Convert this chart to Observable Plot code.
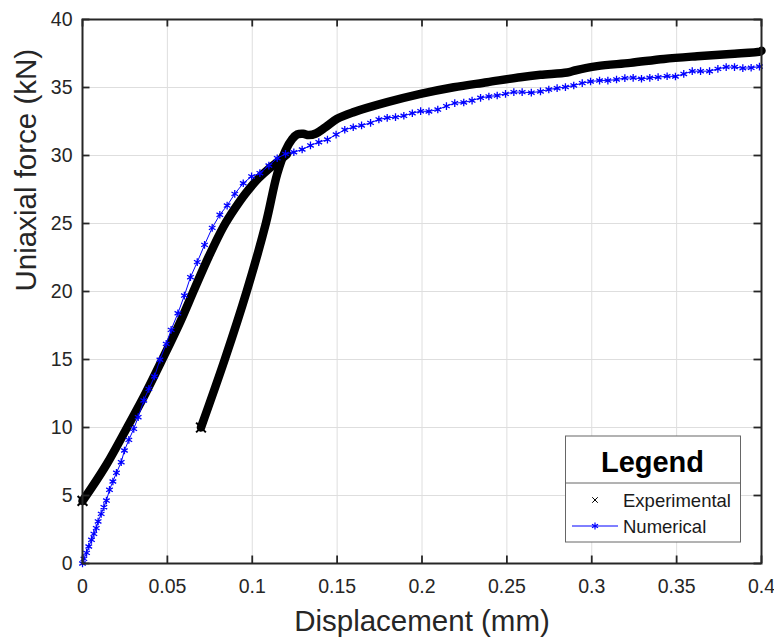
<!DOCTYPE html>
<html><head><meta charset="utf-8">
<script src="https://cdn.jsdelivr.net/npm/d3@7"></script>
<script src="https://cdn.jsdelivr.net/npm/@observablehq/plot@0.6"></script>
<style>
body{margin:0;background:#fff;}
#wrap{position:relative;width:774px;height:637px;}
</style></head><body><div id="wrap"></div>
<script>
// ---- tick values & labels ----
const xTicks = [0, 0.05, 0.1, 0.15, 0.2, 0.25, 0.3, 0.35, 0.4];
const xTickLabels = ["0", "0.05", "0.1", "0.15", "0.2", "0.25", "0.3", "0.35", "0.4"];
const yTicks = [0, 5, 10, 15, 20, 25, 30, 35, 40];
const yTickLabels = ["0", "5", "10", "15", "20", "25", "30", "35", "40"];

// ---- Experimental (two branches) ----
const expX1 = [0, 0.005, 0.0145, 0.0263, 0.0371, 0.047, 0.0577, 0.066, 0.0745, 0.0832, 0.09, 0.096, 0.1035, 0.11, 0.1166, 0.1205];
const expY1 = [4.6, 5.5, 7.35, 10.0, 12.5, 15.0, 17.8, 20.2, 22.6, 24.8, 26.15, 27.2, 28.3, 29.05, 29.7, 30.1];
const expX2 = [0.0698, 0.0838, 0.0967, 0.108, 0.1147, 0.1196, 0.1235, 0.1265, 0.13, 0.1333, 0.1375, 0.1431, 0.15, 0.1598, 0.1795, 0.1991, 0.2187, 0.2384, 0.258, 0.2698, 0.2855, 0.29, 0.3032, 0.3228, 0.3425, 0.3621, 0.3817, 0.3994, 0.4];
const expY2 = [10.0, 15.0, 20.0, 25.0, 28.65, 30.37, 31.2, 31.55, 31.6, 31.5, 31.62, 32.08, 32.7, 33.19, 33.92, 34.53, 35.02, 35.39, 35.76, 35.93, 36.1, 36.25, 36.57, 36.81, 37.1, 37.3, 37.47, 37.65, 37.7];

// ---- Numerical ----
const numX = [0, 0.0008, 0.0024, 0.0037, 0.0053, 0.0067, 0.0081, 0.0092, 0.011, 0.0126, 0.0141, 0.0159, 0.0179, 0.02, 0.0228, 0.0247, 0.0273, 0.0302, 0.0328, 0.0361, 0.0391, 0.0424, 0.0456, 0.0493, 0.0522, 0.0562, 0.06, 0.0636, 0.0676, 0.0719, 0.0764, 0.0809, 0.0852, 0.0897, 0.0947, 0.0996, 0.1045, 0.1098, 0.1147, 0.1196, 0.1245, 0.1294, 0.1343, 0.1392, 0.1443, 0.1494, 0.1545, 0.1595, 0.1644, 0.1697, 0.1746, 0.1795, 0.1844, 0.1893, 0.1943, 0.1992, 0.2041, 0.2093, 0.2144, 0.2193, 0.2246, 0.2295, 0.2345, 0.2394, 0.2443, 0.2492, 0.2541, 0.259, 0.2644, 0.2698, 0.2747, 0.2796, 0.2845, 0.2894, 0.2944, 0.2993, 0.3046, 0.3095, 0.3146, 0.3195, 0.3244, 0.3293, 0.3342, 0.3391, 0.3444, 0.3493, 0.3542, 0.3592, 0.3641, 0.3694, 0.3743, 0.3792, 0.3841, 0.389, 0.3939, 0.3988];
const numY = [0, 0.34, 0.78, 1.25, 1.74, 2.18, 2.6, 3.09, 3.65, 4.14, 4.63, 5.42, 6.03, 6.67, 7.45, 8.31, 9.09, 9.9, 10.76, 11.99, 12.84, 13.75, 14.98, 16.15, 17.18, 18.4, 19.7, 21.05, 22.16, 23.43, 24.68, 25.64, 26.32, 27.18, 27.96, 28.46, 28.7, 29.26, 29.8, 30.12, 30.24, 30.44, 30.74, 30.98, 31.17, 31.54, 31.89, 32.08, 32.21, 32.4, 32.65, 32.77, 32.82, 32.92, 33.11, 33.26, 33.24, 33.38, 33.63, 33.85, 33.9, 34.04, 34.24, 34.34, 34.41, 34.53, 34.66, 34.66, 34.62, 34.71, 34.85, 34.95, 35.03, 35.15, 35.32, 35.44, 35.51, 35.51, 35.59, 35.69, 35.71, 35.64, 35.71, 35.76, 35.83, 35.81, 36.0, 36.2, 36.2, 36.2, 36.37, 36.5, 36.5, 36.42, 36.45, 36.54];

const xLabel = "Displacement (mm)";
const yLabel = "Uniaxial force (kN)";
const legendTitle = "Legend";
const seriesNames = ["Experimental", "Numerical"];

const exp1 = expX1.map((x, i) => ({x, y: expY1[i]}));
const exp2 = expX2.map((x, i) => ({x, y: expY2[i]}));
const num = numX.map((x, i) => ({x, y: numY[i]}));
const expStarts = [exp1[0], exp2[0]];

const W = 774, H = 637, mL = 82, mR = 13, mT = 19, mB = 74;
const pw = W - mL - mR, ph = H - mT - mB;
const tickLen = 7.5;
const axisColor = "#262626";
const font = "'Liberation Sans', Arial, Helvetica, sans-serif";
const xFmt = new Map(xTicks.map((d, i) => [d, xTickLabels[i]]));
const yFmt = new Map(yTicks.map((d, i) => [d, yTickLabels[i]]));

const svg = Plot.plot({
  width: W, height: H,
  marginLeft: mL, marginRight: mR, marginTop: mT, marginBottom: mB,
  x: {domain: [0, 0.4]},
  y: {domain: [0, 40]},
  style: {fontFamily: font, background: "white", color: axisColor},
  marks: [
    Plot.gridX(xTicks, {stroke: "#dedede", strokeOpacity: 1, strokeWidth: 1}),
    Plot.gridY(yTicks, {stroke: "#dedede", strokeOpacity: 1, strokeWidth: 1}),
    Plot.line(exp1, {x: "x", y: "y", stroke: "black", strokeWidth: 8.5, curve: "catmull-rom", strokeLinejoin: "round"}),
    Plot.line(exp2, {x: "x", y: "y", stroke: "black", strokeWidth: 8.5, curve: "catmull-rom", strokeLinejoin: "round"}),
    Plot.dot(expStarts, {x: "x", y: "y", symbol: "times", r: 4.5, stroke: "black", strokeWidth: 2}),
    Plot.line(num, {x: "x", y: "y", stroke: "#0000ff", strokeWidth: 1}),
    Plot.dot(num, {x: "x", y: "y", symbol: "asterisk", r: 3.6, stroke: "#0000ff", strokeWidth: 1.3}),
    Plot.tickX(xTicks, {x: d => d, insetTop: ph - tickLen, stroke: axisColor, strokeWidth: 1.8}),
    Plot.tickX(xTicks, {x: d => d, insetBottom: ph - tickLen, stroke: axisColor, strokeWidth: 1.8}),
    Plot.tickY(yTicks, {y: d => d, insetRight: pw - tickLen, stroke: axisColor, strokeWidth: 1.8}),
    Plot.tickY(yTicks, {y: d => d, insetLeft: pw - tickLen, stroke: axisColor, strokeWidth: 1.8}),
    Plot.frame({stroke: axisColor, strokeWidth: 2}),
    Plot.axisX(xTicks, {tickSize: 0, tickPadding: 16, fontSize: 19.5, tickFormat: d => xFmt.get(d), label: null, fill: axisColor}),
    Plot.axisY(yTicks, {tickSize: 0, tickPadding: 10, fontSize: 19.5, tickFormat: d => yFmt.get(d), label: null, fill: axisColor}),
    Plot.text([xLabel], {frameAnchor: "bottom", lineAnchor: "bottom", dy: 67, fontSize: 29.5, fill: axisColor}),
    Plot.text([yLabel], {frameAnchor: "left", lineAnchor: "bottom", rotate: -90, dx: -46.5, fontSize: 29.5, fill: axisColor})
  ]
});
document.getElementById("wrap").appendChild(svg);

// ---- legend (inside axes, bottom-right) ----
const g = d3.select(svg).append("g").attr("font-family", font);
const lx = 565.5, ly = 436, lw = 175, lh = 106;
g.append("rect").attr("x", lx).attr("y", ly).attr("width", lw).attr("height", lh)
  .attr("fill", "white").attr("stroke", "#666").attr("stroke-width", 1);
g.append("line").attr("x1", lx).attr("x2", lx + lw).attr("y1", 483).attr("y2", 483)
  .attr("stroke", "#666").attr("stroke-width", 1);
g.append("text").attr("x", lx + lw / 2 - 0.5).attr("y", 472).attr("text-anchor", "middle")
  .attr("font-size", 29).attr("font-weight", "bold").attr("fill", "black").text(legendTitle);
g.append("path").attr("transform", "translate(595,500)")
  .attr("d", d3.symbol(d3.symbolTimes, 22)()).attr("stroke", "black").attr("stroke-width", 1).attr("fill", "none");
g.append("line").attr("x1", 572).attr("x2", 618).attr("y1", 526).attr("y2", 526)
  .attr("stroke", "#0000ff").attr("stroke-width", 1);
g.append("path").attr("transform", "translate(595,526)")
  .attr("d", d3.symbol(d3.symbolAsterisk, 34)()).attr("stroke", "#0000ff").attr("stroke-width", 1.2).attr("fill", "none");
g.append("text").attr("x", 623).attr("y", 507).attr("text-anchor", "start").attr("font-size", 18.5).attr("fill", "#1a1a1a").text(seriesNames[0]);
g.append("text").attr("x", 623).attr("y", 533).attr("text-anchor", "start").attr("font-size", 18.5).attr("fill", "#1a1a1a").text(seriesNames[1]);
</script>
</body></html>
